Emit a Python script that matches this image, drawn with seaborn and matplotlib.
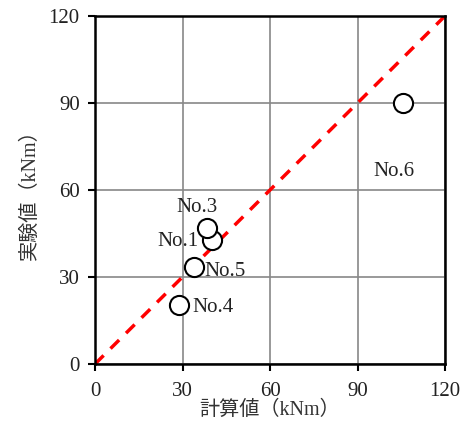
import matplotlib
matplotlib.use("Agg")
import matplotlib.pyplot as plt
import seaborn as sns
import pandas as pd

names = ["No.1", "No.3", "No.4", "No.5", "No.6"]
calc = [40.1, 38.5, 28.9, 34.0, 105.6]
exp_ = [42.8, 46.8, 20.3, 33.6, 90.0]
ticks = [0, 30, 60, 90, 120]
line_vals = [0, 120]

label_pos = {"No.1": (178, 241), "No.3": (197, 208), "No.4": (213, 308),
             "No.5": (225, 271), "No.6": (394, 172)}

sns.set_style("white")
plt.rcParams['font.family'] = ['Liberation Serif', 'Noto Sans CJK JP']

df = pd.DataFrame({"name": names, "calc": calc, "exp": exp_})

fig = plt.figure(figsize=(4.65, 4.23), dpi=100)
ax = fig.add_axes([95/465, 59/423, 350/465, 348/423])

ax.set_xlim(0, 120)
ax.set_ylim(0, 120)
ax.set_xticks(ticks)
ax.set_yticks(ticks)
ax.grid(True, color="#888888", linewidth=1.2)
ax.set_axisbelow(True)

sns.lineplot(x=line_vals, y=line_vals, ax=ax, color="#ff0000", linestyle=(0, (3.5, 2.8)),
             linewidth=2.5, zorder=2)
sns.scatterplot(data=df, x="calc", y="exp", ax=ax, s=190, facecolor="white",
                edgecolor="black", linewidth=1.5, zorder=3, clip_on=False)

for n in names:
    px, py = label_pos[n]
    xd = (px - 95) / 350 * 120
    yd = (364 - py) / 348 * 120
    ax.text(xd, yd, n, ha="center", va="center", fontsize=15, color="#222222", zorder=4)

for s in ax.spines.values():
    s.set_visible(True)
    s.set_color("black")
    s.set_linewidth(1.8)

ax.tick_params(axis="both", direction="out", length=5, width=1.5, color="black",
               labelsize=15, labelcolor="#222222", pad=6, bottom=True, left=True)
ax.tick_params(axis="x", pad=8)
ax.set_xlabel("計算値（kNm）", fontsize=14.5, labelpad=0, color="#333333")
ax.set_ylabel("実験値（kNm）", fontsize=14.5, labelpad=6, color="#333333")

fig.savefig("out.png", dpi=100)
